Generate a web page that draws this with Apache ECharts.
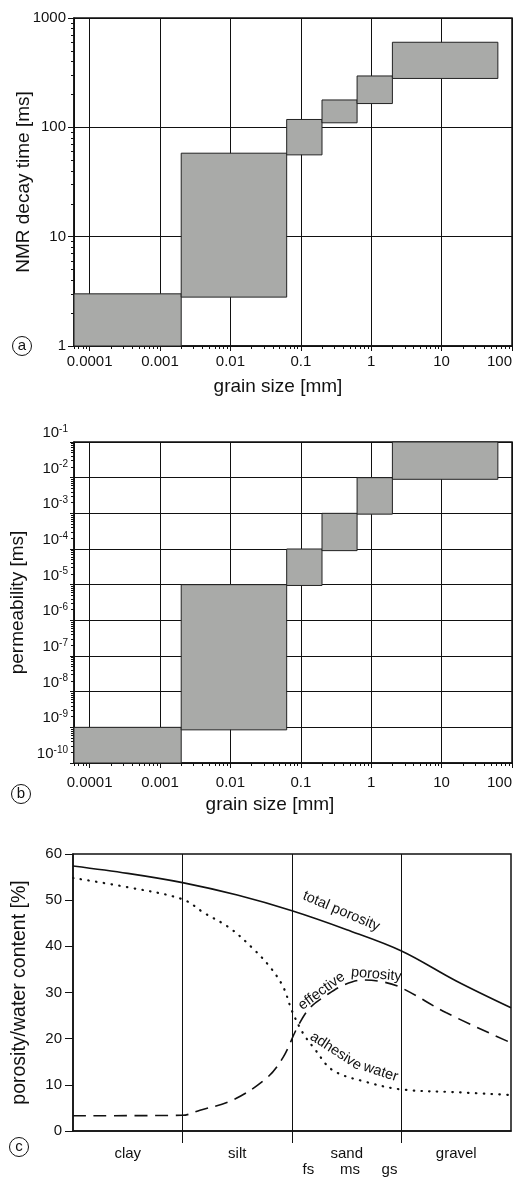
<!DOCTYPE html>
<html>
<head>
<meta charset="utf-8">
<script src="https://cdn.jsdelivr.net/npm/echarts@6/dist/echarts.min.js"></script>
<style>
  html, body { margin: 0; padding: 0; background: #fff; }
  #chart { width: 516px; height: 1177px; }
</style>
</head>
<body>
<div id="chart"></div>
<script>
// Grain-size classes: clay, silt, fine/medium/coarse sand, gravel
const sizeClasses = ['clay', 'silt', 'fs', 'ms', 'gs', 'gravel'];
const grainMin = [0.00006, 0.002, 0.063, 0.2, 0.63, 2];
const grainMax = [0.002, 0.063, 0.2, 0.63, 2, 63];

// NMR decay time range of each class [ms]
const nmrMin = [1, 2.8, 56, 110, 165, 280];
const nmrMax = [3, 58, 118, 178, 295, 600];

// Permeability range of each class
const permMin = [1e-10, 8.5e-10, 9.5e-6, 9e-5, 9.5e-4, 9e-3];
const permMax = [1e-9, 1e-5, 1e-4, 1e-3, 1e-2, 1e-1];

// Panel c: sections along the grain-size scale
const sectionNames = ['clay', 'silt', 'sand', 'gravel'];
const sandNames = ['fs', 'ms', 'gs'];
const sandPos = [2.15, 2.53, 2.89];

// Total porosity [%]
const totalX = [0, 0.5, 1, 1.5, 2, 2.5, 3, 3.5, 4];
const totalY = [57.4, 55.8, 53.8, 51.1, 47.7, 43.6, 39.0, 32.5, 26.7];

// Effective porosity [%]
const effX = [0, 1, 1.16, 1.46, 1.77, 1.92, 2.05, 2.16, 2.32, 2.47, 2.65, 2.83, 3, 3.41, 4];
const effY = [3.3, 3.4, 4.5, 6.7, 11.5, 16, 22.5, 26.6, 29.5, 31.6, 32.7, 32.3, 31, 25.6, 19.1];

// Adhesive water [%]
const adhX = [0, 0.5, 1, 1.2, 1.43, 1.64, 1.8, 1.92, 2.0, 2.1, 2.2, 2.37, 2.68, 3, 3.5, 4];
const adhY = [54.8, 52.8, 50.2, 47.2, 44, 39.6, 35.5, 31.2, 26, 21.2, 18, 13.2, 10.6, 9, 8.4, 7.8];

// Curve captions: text, anchor [x, y] in panel c data units, angle in degrees
const curveCaptions = [
  { text: 'total porosity', at: [2.45, 47.6], angle: -23 },
  { text: 'effective', at: [2.27, 30.3], angle: 36 },
  { text: 'porosity', at: [2.77, 33.9], angle: -5 },
  { text: 'adhesive', at: [2.40, 17.3], angle: -33 },
  { text: 'water', at: [2.81, 12.8], angle: -18 }
];

const FONT = "'Liberation Sans', Arial, Helvetica, sans-serif";
const INK = '#111';

// minor log ticks (2..9 of every decade) inside [lo, hi]
function minorLogTicks(lo, hi) {
  const out = [];
  for (let e = Math.floor(Math.log10(lo)); e <= Math.ceil(Math.log10(hi)); e++) {
    for (let m = 2; m <= 9; m++) {
      const v = m * Math.pow(10, e);
      if (v >= lo && v <= hi) out.push(Number(v.toPrecision(6)));
    }
  }
  return out;
}

function rectData(xs0, xs1, ys0, ys1) {
  return xs0.map((_, i) => [xs0[i], xs1[i], ys0[i], ys1[i], sizeClasses[i]]);
}

function renderBox(params, api) {
  const p0 = api.coord([api.value(0), api.value(2)]);
  const p1 = api.coord([api.value(1), api.value(3)]);
  return {
    type: 'rect',
    shape: { x: p0[0], y: p1[1], width: p1[0] - p0[0], height: p0[1] - p1[1] },
    style: { fill: '#a9aaa8', stroke: '#222', lineWidth: 1 }
  };
}

const grainFmt = v => String(Number(v.toPrecision(6)));

function mainLogX(grid, nameGap, shift, labelMargin) {
  return {
    gridIndex: grid, type: 'log', logBase: 10, min: grainMin[0], max: 100, position: 'bottom',
    axisLine: { show: true, lineStyle: { color: INK, width: 1.5 } },
    axisTick: { show: true, inside: false, length: 5, lineStyle: { color: INK, width: 1 } },
    splitLine: { show: true, lineStyle: { color: INK, width: 1 } },
    axisLabel: { show: true, fontFamily: FONT, fontSize: 15, color: INK, margin: labelMargin,
      showMinLabel: false, alignMaxLabel: 'right', formatter: grainFmt },
    name: 'grain size [mm]', nameLocation: 'middle', nameGap: nameGap, nameMoveOverlap: false,
    nameTextStyle: { fontFamily: FONT, fontSize: 19, color: INK, padding: [0, shift, 0, 0] }
  };
}
function minorLogX(grid) {
  return {
    gridIndex: grid, type: 'log', logBase: 10, min: grainMin[0], max: 100, position: 'bottom',
    axisLine: { show: false }, splitLine: { show: false }, axisLabel: { show: false },
    axisTick: { show: true, inside: false, length: 3,
      customValues: minorLogTicks(grainMin[0], 100), lineStyle: { color: INK, width: 1 } }
  };
}
function minorLogY(grid, lo, hi) {
  return {
    gridIndex: grid, type: 'log', logBase: 10, min: lo, max: hi, position: 'left',
    axisLine: { show: false }, splitLine: { show: false }, axisLabel: { show: false },
    axisTick: { show: true, inside: false, length: 3,
      customValues: minorLogTicks(lo, hi), lineStyle: { color: INK, width: 1 } }
  };
}

const chart = echarts.init(document.getElementById('chart'), null, { renderer: 'canvas' });

const option = {
  backgroundColor: '#fff',
  animation: false,
  textStyle: { fontFamily: FONT, color: INK },
  grid: [
    { left: 74, top: 18, width: 438, height: 328, show: true, borderColor: INK, borderWidth: 1.5, outerBoundsMode: 'none' },
    { left: 74, top: 442, width: 438, height: 321, show: true, borderColor: INK, borderWidth: 1.5, outerBoundsMode: 'none' },
    { left: 73, top: 854, width: 438, height: 277, show: true, borderColor: INK, borderWidth: 1.5, outerBoundsMode: 'none' }
  ],
  xAxis: [
    mainLogX(0, 31, 30, 8),
    minorLogX(0),
    mainLogX(1, 32, 46, 12),
    minorLogX(1),
    {
      gridIndex: 2, type: 'value', min: 0, max: 4, interval: 1, position: 'bottom',
      axisLine: { show: true, lineStyle: { color: INK, width: 1.5 } },
      axisTick: { show: true, inside: false, length: 12, customValues: [1, 2, 3], lineStyle: { color: INK, width: 1 } },
      splitLine: { show: true, lineStyle: { color: INK, width: 1 } },
      axisLabel: { show: false }
    },
    {
      gridIndex: 2, type: 'category', data: sectionNames, boundaryGap: true, position: 'bottom',
      axisLine: { show: false }, axisTick: { show: false }, splitLine: { show: false },
      axisLabel: { fontFamily: FONT, fontSize: 15, color: INK, margin: 15 }
    },
    {
      gridIndex: 2, type: 'value', min: 0, max: 4, position: 'bottom',
      axisLine: { show: false }, axisTick: { show: false }, splitLine: { show: false },
      axisLabel: {
        fontFamily: FONT, fontSize: 15, color: INK, margin: 31, customValues: sandPos,
        formatter: v => {
          let best = 0;
          sandPos.forEach((p, i) => { if (Math.abs(p - v) < Math.abs(sandPos[best] - v)) best = i; });
          return sandNames[best];
        }
      }
    }
  ],
  yAxis: [
    {
      gridIndex: 0, type: 'log', logBase: 10, min: 1, max: 1000, position: 'left',
      axisLine: { show: true, lineStyle: { color: INK, width: 1.5 } },
      axisTick: { show: true, inside: false, length: 6, lineStyle: { color: INK, width: 1 } },
      splitLine: { show: true, lineStyle: { color: INK, width: 1 } },
      axisLabel: { fontFamily: FONT, fontSize: 15, color: INK, margin: 8, formatter: v => String(Math.round(v)) },
      name: 'NMR decay time [ms]', nameLocation: 'middle', nameGap: 41, nameMoveOverlap: false,
      nameTextStyle: { fontFamily: FONT, fontSize: 19, color: INK }
    },
    minorLogY(0, 1, 1000),
    {
      gridIndex: 1, type: 'log', logBase: 10, min: 1e-10, max: 1e-1, splitNumber: 9, position: 'left',
      axisLine: { show: true, lineStyle: { color: INK, width: 1.5 } },
      axisTick: { show: true, inside: false, length: 4, lineStyle: { color: INK, width: 1 } },
      splitLine: { show: true, lineStyle: { color: INK, width: 1 } },
      axisLabel: {
        fontFamily: FONT, color: INK, margin: 6, verticalAlign: 'bottom',
        formatter: v => '{b|10}{s|' + Math.round(Math.log10(v)) + '}',
        rich: {
          b: { fontFamily: FONT, fontSize: 15, color: INK, lineHeight: 18 },
          s: { fontFamily: FONT, fontSize: 10, color: INK, lineHeight: 18, verticalAlign: 'top' }
        }
      },
      name: 'permeability [ms]', nameLocation: 'middle', nameGap: 47, nameMoveOverlap: false,
      nameTextStyle: { fontFamily: FONT, fontSize: 19, color: INK }
    },
    minorLogY(1, 1e-10, 1e-1),
    {
      gridIndex: 2, type: 'value', min: 0, max: 60, interval: 10, position: 'left',
      axisLine: { show: true, lineStyle: { color: INK, width: 1.5 } },
      axisTick: { show: true, inside: false, length: 8, lineStyle: { color: INK, width: 1 } },
      splitLine: { show: false },
      axisLabel: { fontFamily: FONT, fontSize: 15, color: INK, margin: 11 },
      name: 'porosity/water content [%]', nameLocation: 'middle', nameGap: 43, nameMoveOverlap: false,
      nameTextStyle: { fontFamily: FONT, fontSize: 19.5, color: INK }
    }
  ],
  series: [
    {
      type: 'custom', name: 'NMR decay time', xAxisIndex: 0, yAxisIndex: 0,
      renderItem: renderBox, encode: { x: [0, 1], y: [2, 3] },
      data: rectData(grainMin, grainMax, nmrMin, nmrMax), z: 5
    },
    {
      type: 'custom', name: 'permeability', xAxisIndex: 2, yAxisIndex: 2,
      renderItem: renderBox, encode: { x: [0, 1], y: [2, 3] },
      data: rectData(grainMin, grainMax, permMin, permMax), z: 5
    },
    {
      type: 'line', name: 'total porosity', xAxisIndex: 4, yAxisIndex: 4,
      data: totalX.map((x, i) => [x, totalY[i]]), smooth: 0.35, symbol: 'none',
      lineStyle: { color: INK, width: 1.6 }
    },
    {
      type: 'line', name: 'effective porosity', xAxisIndex: 4, yAxisIndex: 4,
      data: effX.map((x, i) => [x, effY[i]]), smooth: 0.35, symbol: 'none',
      lineStyle: { color: INK, width: 1.6, type: [13, 7.5] }
    },
    {
      type: 'line', name: 'adhesive water', xAxisIndex: 4, yAxisIndex: 4,
      data: adhX.map((x, i) => [x, adhY[i]]), smooth: 0.35, symbol: 'none',
      lineStyle: { color: INK, width: 2.2, type: [0.5, 7.3], cap: 'round' }
    }
  ]
};

chart.setOption(option);

// circled panel letters and curve captions
function panelMark(letter, x, y) {
  return {
    type: 'group', x: x, y: y,
    children: [
      { type: 'circle', shape: { cx: 0, cy: 0, r: 9.5 }, style: { fill: '#fff', stroke: INK, lineWidth: 1 } },
      { type: 'text', style: { text: letter, x: 0, y: 0, align: 'center', verticalAlign: 'middle',
        font: '15px ' + FONT, fill: INK } }
    ]
  };
}

const graphics = [panelMark('a', 22, 346), panelMark('b', 21, 794), panelMark('c', 19, 1147)];
curveCaptions.forEach(c => {
  const p = chart.convertToPixel({ xAxisIndex: 4, yAxisIndex: 4 }, c.at);
  graphics.push({
    type: 'text', x: p[0], y: p[1], rotation: c.angle * Math.PI / 180, z: 10,
    style: { text: c.text, x: 0, y: 0, align: 'center', verticalAlign: 'middle',
      font: '14.5px ' + FONT, fill: INK }
  });
});
chart.setOption({ graphic: graphics });
</script>
</body>
</html>
